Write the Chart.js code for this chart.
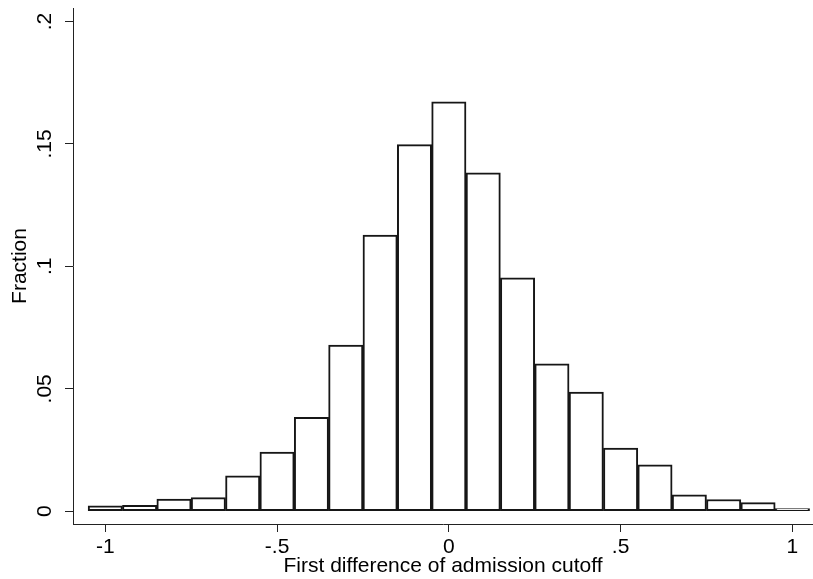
<!DOCTYPE html>
<html>
<head>
<meta charset="utf-8">
<script src="https://cdn.jsdelivr.net/npm/chart.js@4"></script>
<style>
  html, body { margin: 0; padding: 0; background: #fff; }
  #wrap { width: 813px; height: 579px; }
</style>
</head>
<body>
<div id="wrap"><canvas id="histChart" width="813" height="579"></canvas></div>
<script>
// bin centres (width .1) and fraction in each bin
var binCenters = [-1, -0.9, -0.8, -0.7, -0.6, -0.5, -0.4, -0.3, -0.2, -0.1, 0,
                  0.1, 0.2, 0.3, 0.4, 0.5, 0.6, 0.7, 0.8, 0.9, 1];
var fractions = [0.0022, 0.0024, 0.0050, 0.0056, 0.0145, 0.0242, 0.0384, 0.0679, 0.1128, 0.1497, 0.1672,
                 0.1382, 0.0953, 0.0602, 0.0487, 0.0258, 0.0190, 0.0067, 0.0048, 0.0035, 0.0011];

var xTicks = [-1, -0.5, 0, 0.5, 1];
var xTickLabels = ["-1", "-.5", "0", ".5", "1"];
var yTicks = [0, 0.05, 0.1, 0.15, 0.2];
var yTickLabels = ["0", ".05", ".1", ".15", ".2"];

var FONT = "'Liberation Sans', Arial, sans-serif";
var FSIZE = 21;
var points = binCenters.map(function (x, i) { return { x: x, y: fractions[i] }; });

// y tick labels in Stata are turned on their side
var sideLabels = {
  id: 'sideLabels',
  afterDraw: function (chart) {
    var sc = chart.scales.y;
    var ctx = chart.ctx;
    ctx.save();
    ctx.fillStyle = '#000';
    ctx.font = FSIZE + 'px ' + FONT;
    ctx.textAlign = 'center';
    ctx.textBaseline = 'middle';
    sc.ticks.forEach(function (t) {
      var py = sc.getPixelForValue(t.value);
      ctx.save();
      ctx.translate(45, py);
      ctx.rotate(-Math.PI / 2);
      ctx.fillText(yTickLabels[yTicks.indexOf(t.value)], 0, 0);
      ctx.restore();
    });
    ctx.restore();
  }
};

new Chart("histChart", {
  type: "bar",
  data: {
    datasets: [{
      data: points,
      backgroundColor: "#ffffff",
      borderColor: "#161616",
      borderWidth: 2,
      borderSkipped: false,
      barPercentage: 1,
      categoryPercentage: 1
    }]
  },
  options: {
    responsive: false,
    animation: false,
    layout: { padding: { top: 8, left: 0, right: 0, bottom: 0 } },
    plugins: {
      legend: { display: false },
      tooltip: { enabled: false }
    },
    scales: {
      x: {
        type: "linear",
        min: -1.094,
        max: 1.06,
        offset: false,
        afterBuildTicks: function (s) { s.ticks = xTicks.map(function (v) { return { value: v }; }); },
        afterFit: function (s) { s.height = 55; },
        grid: { offset: false, drawOnChartArea: false, drawTicks: true, tickLength: 8, color: "#222", lineWidth: 1 },
        border: { display: true, color: "#222", width: 1 },
        ticks: {
          color: "#000",
          font: { family: FONT, size: FSIZE },
          padding: 3,
          maxRotation: 0,
          callback: function (v) { return xTickLabels[xTicks.indexOf(v)]; }
        },
        title: {
          display: true,
          text: "First difference of admission cutoff",
          color: "#000",
          font: { family: FONT, size: FSIZE },
          padding: { top: 0, bottom: 0 }
        }
      },
      y: {
        min: -0.0052,
        max: 0.2055,
        afterBuildTicks: function (s) { s.ticks = yTicks.map(function (v) { return { value: v }; }); },
        afterFit: function (s) { s.width = 73; },
        grid: { drawOnChartArea: false, drawTicks: true, tickLength: 8, color: "#222", lineWidth: 1 },
        border: { display: true, color: "#222", width: 1 },
        ticks: { display: false },
        title: {
          display: true,
          text: "Fraction",
          color: "#000",
          font: { family: FONT, size: FSIZE },
          padding: { top: 8, bottom: 0 }
        }
      }
    }
  },
  plugins: [sideLabels]
});
</script>
</body>
</html>
